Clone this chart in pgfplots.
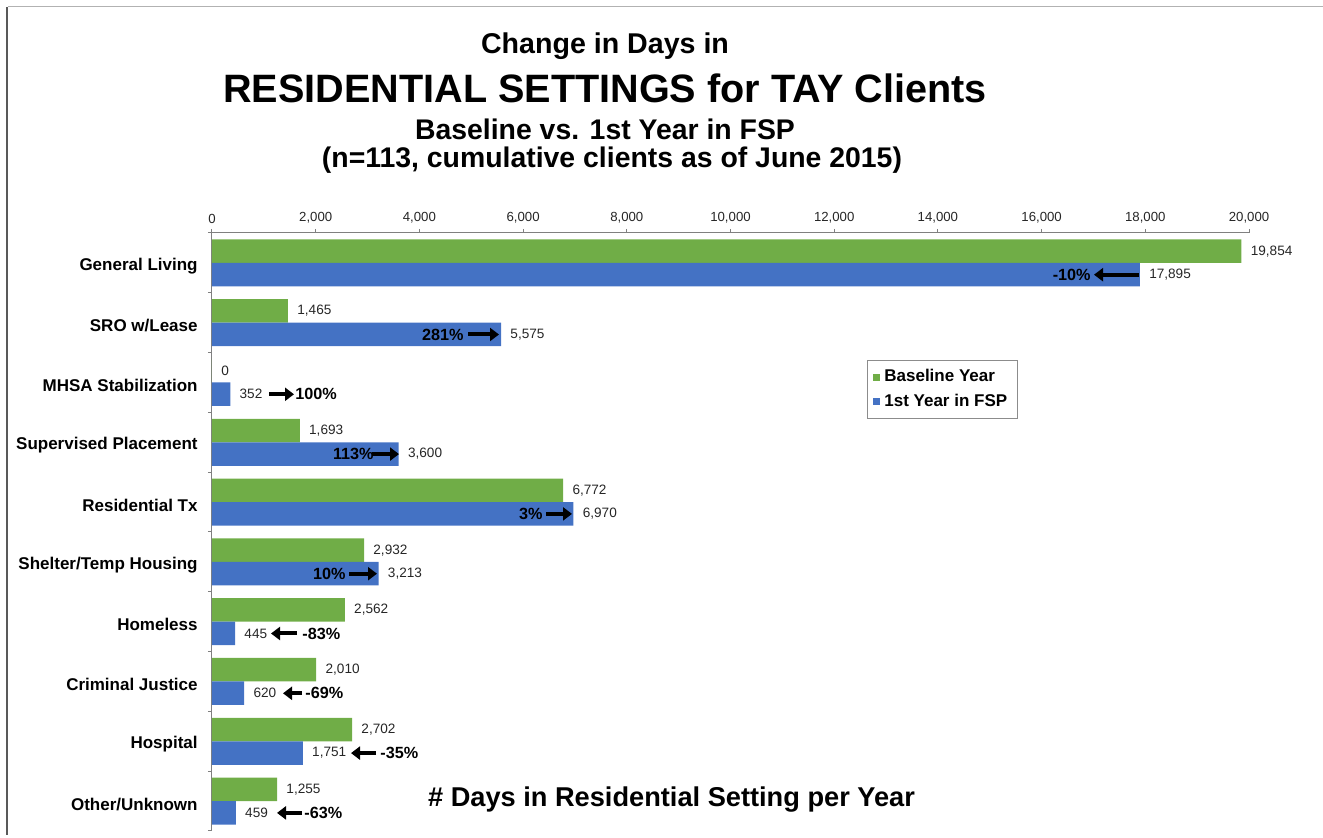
\documentclass[border=0pt]{standalone}
\usepackage{fontspec}
\setmainfont{Liberation Sans}
\usepackage{pgfplots}
\pgfplotsset{compat=1.18}
\usetikzlibrary{arrows.meta}

\definecolor{cgreen}{HTML}{70AD47}
\definecolor{cblue}{HTML}{4472C4}
\newcommand\fs[1]{\fontsize{#1}{#1}\selectfont}

\begin{document}
\begin{tikzpicture}
% picture frame in pixel units (1px = 0.5pt)
\begin{scope}[x=0.5pt,y=-0.5pt]
  \path[use as bounding box] (0,0) rectangle (1323,835);
  \draw[black!30, line width=0.5pt] (8,7) -- (1323,7);
  \draw[black!65, line width=1pt] (7,7) -- (7,835);
  \node[font=\fs{14.3}\bfseries] at (605,46) {Change in Days in};
  \node[font=\fs{19.8}\bfseries] at (605,88) {RESIDENTIAL SETTINGS for TAY Clients};
  \node[font=\fs{14.2}\bfseries] at (605,129) {Baseline vs. 1st Year in FSP};
  \node[font=\fs{14.2}\bfseries] at (612,160) {(n=113, cumulative clients as of June 2015)};
\end{scope}

\begin{axis}[
  at={(106pt,-116.5pt)}, anchor=north west,
  scale only axis, width=518.5pt, height=299pt,
  xbar, bar width=11.75pt,
  xmin=0, xmax=20000, ymin=-0.5, ymax=9.5,
  axis x line*=top, axis y line*=left,
  axis line style={draw=black!50, line width=0.5pt},
  tick align=outside, major tick length=2pt,
  tick style={draw=black!50, line width=0.5pt},
  xtick={0,2000,...,20000}, scaled x ticks=false,
  xticklabel style={font=\fs{6.6}, text=black!85, inner sep=0pt, yshift=2.5pt},
  ytick={-0.5,0.5,...,9.5}, yticklabels={},
  extra y ticks={0,1,...,9},
  extra y tick labels={Other/Unknown,Hospital,Criminal Justice,Homeless,Shelter/Temp Housing,Residential Tx,Supervised Placement,MHSA Stabilization,SRO w/Lease,General Living},
  extra y tick style={major tick length=0pt,
    yticklabel style={font=\fs{8.5}\bfseries, inner sep=0pt, xshift=-7pt, yshift=-1.5pt}},
  /pgf/number format/1000 sep={,},
  /pgf/number format/assume math mode=true,
  point meta=x,
  nodes near coords, nodes near coords align=horizontal,
  every node near coord/.append style={font=\fs{6.8}, text=black!85, inner sep=0pt, xshift=4.5pt},
  legend style={at={(0.6316,0.7876)}, anchor=north west, draw=black!45,
    font=\fs{8.5}\bfseries, inner xsep=3pt, inner ysep=2.5pt, row sep=0.5pt},
  legend cell align=left,
  legend image code/.code={\path[#1] (0pt,-1.75pt) rectangle (3.5pt,1.75pt);},
]
\addplot[fill=cgreen, draw=none, bar shift=5.875pt] coordinates {
  (1255,0) (2702,1) (2010,2) (2562,3) (2932,4)
  (6772,5) (1693,6) (0,7) (1465,8) (19854,9)};
\addlegendentry{Baseline Year}
\addplot[fill=cblue, draw=none, bar shift=-5.875pt] coordinates {
  (459,0) (1751,1) (620,2) (445,3) (3213,4)
  (6970,5) (3600,6) (352,7) (5575,8) (17895,9)};
\addlegendentry{1st Year in FSP}
\end{axis}

% change annotations
\begin{scope}[x=0.5pt,y=-0.5pt,
  pct/.style={font=\fs{8.1}\bfseries, inner sep=0pt},
  arr/.style={-{Triangle[length=4.5pt,width=6.5pt]}, line width=2pt}]
  \draw[arr] (1139,274.7) -- (1094,274.7);
  \node[pct,anchor=east] at (1091,274.7) {-10\%};
  \node[pct,anchor=east] at (464,334.5) {281\%};
  \draw[arr] (468,334.5) -- (499,334.5);
  \draw[arr] (269,394.3) -- (294,394.3);
  \node[pct,anchor=west] at (295,394.3) {100\%};
  \node[pct,anchor=east] at (374,454.1) {113\%};
  \draw[arr] (372,454.1) -- (399,454.1);
  \node[pct,anchor=east] at (543,513.9) {3\%};
  \draw[arr] (546,513.9) -- (572,513.9);
  \node[pct,anchor=east] at (346,573.7) {10\%};
  \draw[arr] (349,573.7) -- (377,573.7);
  \draw[arr] (297,633.5) -- (271,633.5);
  \node[pct,anchor=west] at (302,633.5) {-83\%};
  \draw[arr] (302,693.3) -- (283,693.3);
  \node[pct,anchor=west] at (305,693.3) {-69\%};
  \draw[arr] (376,753.1) -- (351,753.1);
  \node[pct,anchor=west] at (380,753.1) {-35\%};
  \draw[arr] (302,812.9) -- (277,812.9);
  \node[pct,anchor=west] at (304,812.9) {-63\%};
  \node[font=\fs{13.6}\bfseries] at (671.5,800) {\# Days in Residential Setting per Year};
\end{scope}
\end{tikzpicture}
\end{document}
